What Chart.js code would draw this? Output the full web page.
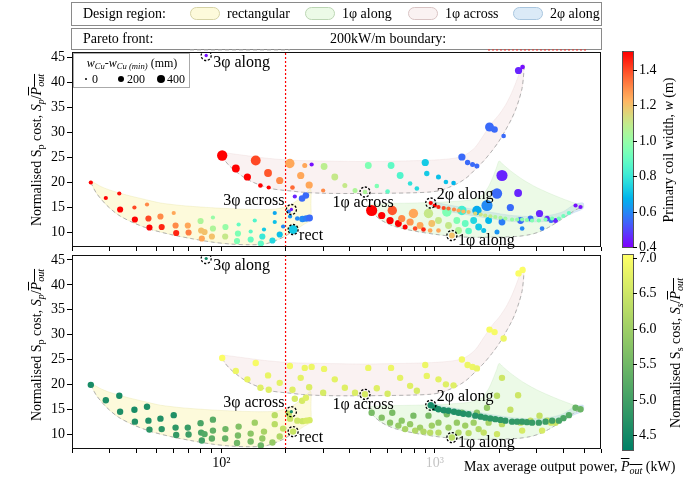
<!DOCTYPE html>
<html>
<head>
<meta charset="utf-8">
<script src="https://cdn.jsdelivr.net/npm/chart.js@4.4.1/dist/chart.umd.min.js"></script>
<style>
  html, body { margin: 0; padding: 0; background: #fff; }
  #wrap { position: relative; width: 697px; height: 479px; overflow: hidden;
          font-family: "Liberation Serif", "Times New Roman", serif; color: #000; }
  canvas { position: absolute; left: 0; }
  .ov { position: absolute; z-index: 5; white-space: nowrap; line-height: 1; }
  .box { position: absolute; z-index: 4; border: 1.5px solid #8a8a8a; box-sizing: border-box; background: #fff; }
  .txt { font-size: 14px; transform: translateY(-50%); }
  .rot { font-size: 14px; transform: translate(-50%, -50%) rotate(-90deg); }
  .pill { position: absolute; z-index: 5; width: 30px; height: 13px; border-radius: 7px; box-sizing: border-box; }
  sub { font-size: 72%; vertical-align: -0.25em; line-height: 0; }
  .bar { text-decoration: overline; }
  .cbar { position: absolute; z-index: 5; width: 10px; outline: 1px solid #555; }
  .ctick { position: absolute; z-index: 5; width: 4px; height: 1px; background: #000; }
</style>
</head>
<body>
<div id="wrap">
  <canvas id="topChart" width="697" height="265" style="top:0px"></canvas>
  <canvas id="bottomChart" width="697" height="244" style="top:235px"></canvas>
</div>
<script>
// Design points: [P_out (kW), Sp/P_out, coil width w (m), w_Cu - w_Cu,min (mm), Ss/P_out]
const rectangular = [
  [24.5,19.9,1.50,60,4.55],[28.8,16.8,1.50,60,4.6],[33.3,17.7,1.48,60,4.55],[33.6,14.5,1.50,170,4.6],
  [39.2,14.9,1.40,60,4.55],[39.4,12.5,1.50,170,4.65],[44.9,15.5,1.30,60,4.6],[45.6,12.7,1.40,170,4.65],
  [46.1,10.9,1.50,170,4.75],[51.9,13.1,1.30,170,4.65],[52.6,11.0,1.45,170,4.75],[59.9,13.8,1.25,60,4.65],
  [61.1,11.3,1.30,170,4.8],[61.5,9.8,1.45,170,4.85],[69.7,11.3,1.25,170,4.9],[70.3,9.9,1.32,170,4.95],
  [80.0,12.2,1.05,170,5.1],[80.5,10.3,1.20,170,5.1],[81.1,8.7,1.25,170,5.0],[83.5,10.0,1.20,170,5.2],
  [91.4,12.9,1.00,60,5.25],[91.4,10.7,1.05,170,5.35],[90.4,9.1,1.20,170,5.3],[104.6,11.0,1.00,170,5.5],
  [104.3,9.1,1.10,170,5.4],[118.5,8.2,0.95,170,5.5],[120.6,11.5,0.90,60,5.7],[119.7,9.7,0.95,170,5.6],
  [137.3,10.1,0.88,60,5.8],[137.3,8.5,0.90,170,5.6],[143.5,12.3,0.85,60,6.0],[153.2,7.7,0.88,170,5.45],
  [155.7,9.1,0.80,170,5.9],[158.5,10.5,0.72,60,6.1],[173.6,8.3,0.75,170,5.9],[178,13.8,0.65,60,6.3],
  [178,12.0,0.70,60,6.3],[187.8,9.5,0.70,170,6.2],[194.8,11.1,0.60,60,6.4],[207,14.1,0.58,60,6.4],
  [210,13.1,0.62,60,6.45],[217,10.5,0.72,400,6.45],[221,17.1,0.45,60,6.6],[227,12.7,0.60,80,6.5],
  [239,16.7,0.55,200,6.6],[240,12.6,0.60,200,6.5],[249,17.3,0.55,200,6.7],[250,12.7,0.58,200,6.6],
  [259,12.8,0.55,220,6.6]
];
const onePhaseAcross = [
  [101,25.3,1.50,550,7.0],[117,22.7,1.50,300,6.85],[132.5,21.0,1.50,250,6.8],[145,24.3,1.40,500,6.95],
  [152.5,19.3,1.50,80,6.7],[165.6,21.8,1.38,300,6.8],[166.8,18.9,1.50,60,6.7],[187.8,20.3,1.30,250,6.75],
  [209.5,23.7,1.25,450,6.9],[215.5,18.9,1.35,80,6.7],[235.5,21.3,1.25,250,6.75],[246,23.3,1.25,100,6.85],
  [258,19.4,1.25,250,6.65],[265,23.5,0.42,60,6.85],[300,18.3,1.30,60,6.6],[303,23.1,1.08,220,6.85],
  [340,21.0,1.10,220,6.75],[379,19.3,1.10,100,6.7],[423,18.3,1.05,100,6.65],[471,18.0,1.05,80,6.6],
  [488,23.3,0.95,220,6.85],[535,19.2,0.95,80,6.7],[601,18.1,0.88,80,6.6],[624,23.3,0.88,220,6.85],
  [688,21.3,0.85,220,6.75],[766,19.7,0.78,80,6.7],[824,18.7,0.76,80,6.6],[902,23.9,0.72,250,6.85],
  [917,21.7,0.72,120,6.8],[1040,21.0,0.70,100,6.75],[1127,20.0,0.70,80,6.7],[1224,19.8,0.68,80,6.7],
  [1339,25.0,0.55,250,6.9],[1424,23.9,0.55,120,6.85],[1502,23.5,0.55,100,6.85],[1574,23.2,0.55,100,6.8],
  [1803,31.0,0.55,400,6.95],[1904,30.5,0.55,200,6.95],[2100,29.2,0.55,80,6.85],[2466,42.3,0.45,250,7.0],
  [2576,43.0,0.42,80,7.0]
];
const onePhaseAlong = [
  [506,14.3,1.50,650,5.6],[564,13.3,1.50,250,5.7],[617,12.3,1.50,250,5.8],[632,14.3,1.38,450,5.6],
  [675,11.7,1.50,220,5.9],[700,12.7,1.30,250,5.8],[726,11.0,1.50,100,6.1],[766,12.0,1.28,250,5.9],
  [794,13.7,1.25,450,5.6],[809,10.7,1.40,80,6.2],[853,11.3,1.25,220,6.0],[885,10.5,1.45,80,6.2],
  [934,13.7,1.10,450,5.6],[951,10.3,1.25,80,6.3],[968,11.7,1.20,220,6.0],[1040,12.3,1.10,220,5.9],
  [1040,10.3,1.25,80,6.3],[1138,14.0,0.95,450,5.6],[1159,11.3,1.10,220,6.0],[1202,9.3,1.20,150,6.3],
  [1268,12.3,0.95,220,5.9],[1291,10.3,1.05,220,6.2],[1339,14.3,0.82,450,5.7],[1388,11.7,0.90,220,6.0],
  [1439,10.2,0.88,200,6.3],[1520,12.3,0.75,220,6.0],[1574,14.3,0.66,450,5.8],[1604,11.0,0.72,220,6.2],
  [1694,10.3,0.70,100,6.4],[1755,15.3,0.60,650,5.9],[1786,12.3,0.68,220,6.1],[1955,17.7,0.55,550,6.3],
  [1955,10.0,0.62,100,6.5],[2063,21.3,0.45,650,6.5],[2063,12.0,0.58,220,6.3],[2258,14.9,0.55,250,6.4],
  [2455,17.8,0.45,300,6.5],[2520,12.3,0.55,220,6.4],[2564,10.7,0.60,80,6.6],[2806,12.7,0.55,150,6.4],
  [3092,13.7,0.45,250,6.4],[3179,10.7,0.58,80,6.6],[3356,12.7,0.45,120,6.4],[3500,12.3,0.55,100,6.5],
  [3673,12.3,0.45,100,6.5],[4560,15.3,0.42,60,5.4],[4810,15.0,0.42,60,5.45]
];
const twoPhaseAlong = [
  [957,15.8,1.50,60,4.5],[1000,15.3,1.50,60,4.55],[1040,15.0,1.45,60,4.55],[1100,14.8,1.40,60,4.6],
  [1159,14.7,1.35,60,4.6],[1230,14.5,1.30,60,4.62],[1291,14.3,1.25,60,4.65],[1360,14.1,1.22,60,4.65],
  [1439,14.0,1.20,60,4.7],[1546,13.7,1.15,60,4.7],[1640,13.5,1.12,60,4.72],[1723,13.3,1.10,60,4.75],
  [1820,13.15,1.08,60,4.75],[1920,13.0,1.05,60,4.78],[2030,12.85,1.05,60,4.8],[2139,12.7,1.02,60,4.8],
  [2300,12.5,1.00,60,4.82],[2430,12.5,1.00,60,4.85],[2563,12.5,0.98,60,4.85],[2700,12.4,0.97,60,4.88],
  [2853,12.3,0.96,60,4.9],[3069,12.3,0.95,60,4.9],[3300,12.5,0.95,60,4.95],[3543,12.7,0.94,60,5.0],
  [3811,12.7,0.93,60,5.05],[4000,13.2,0.92,60,5.1],[4245,13.8,0.90,60,5.2]
];
const threePhaseAcross = [[213,14.5,0.42,20,4.5]];
const threePhaseAlong = [[85,45.3,0.42,20,4.5]];

// Design-region outlines [P_out, Sp/P_out]; fronts are the Pareto-optimal lower edges
const rectUpper = [[24.5,20.3],[27,19.2],[30,18.4],[36,17.4],[44,16.5],[52,15.8],[65,15.3],[80,15.0],
  [95,14.8],[120,14.6],[150,14.5],[180,14.6],[205,15.2],[225,16.2],[245,17.4],[262,18.6],[263,15.5],
  [262,12.4],[245,11.6],[228,10.7]];
const rectFront = [[24.5,19.9],[26,17.8],[29,15.4],[33,13.4],[39,11.8],[47,10.5],[58,9.5],[72,8.7],
  [90,8.0],[110,7.6],[135,7.45],[160,7.6],[180,8.3],[200,9.2],[217,10.3]];
const acrossUpper = [[101,25.9],[115,25.6],[135,25.2],[160,24.8],[190,24.5],[230,24.3],[300,24.2],
  [450,24.1],[700,24.2],[1000,24.4],[1250,24.8],[1400,25.5],[1550,27.0],[1700,29.5],[1850,31.8],
  [2000,33.5],[2150,35.5],[2300,38.0],[2450,41.0],[2560,43.5],[2620,43.6]];
const acrossFront = [[101,25.3],[104,24.3],[110,23.1],[118,22.0],[128,20.9],[140,20.0],[154,19.3],
  [170,18.7],[190,18.4],[213,18.2],[240,17.95],[300,17.75],[400,17.7],[600,17.75],[800,17.85],
  [950,18.0],[1060,18.3],[1159,18.9],[1250,19.5],[1339,20.2],[1430,21.1],[1545,22.5],[1700,24.3],
  [1850,26.2],[2000,28.2],[2138,30.3],[2280,32.5],[2381,34.3],[2480,36.5],[2560,38.7],[2600,41.0],[2620,43.2]];
const alongUpper = [[488,15.5],[600,15.7],[800,15.8],[1100,16.0],[1450,16.4],[1650,17.2],[1780,19.0],
  [1870,21.0],[1950,23.0],[2000,24.2],[2100,23.4],[2300,22.0],[2600,20.4],[3000,18.9],[3500,17.6],
  [4000,16.6],[4500,15.8],[4950,15.3]];
const alongFront = [[488,15.4],[505,14.2],[530,13.2],[560,12.4],[600,11.7],[651,11.1],[740,10.5],
  [838,10.05],[1000,9.55],[1202,9.15],[1450,8.95],[1723,8.95],[2100,9.0],[2473,9.15],[2800,9.5],
  [3069,10.0],[3400,10.9],[3811,12.2],[4200,13.4],[4560,14.4],[4950,15.1]];
const twoAlongUpper = [[940,16.3],[1100,15.6],[1400,14.8],[1800,14.0],[2300,13.3],[2900,13.1],
  [3500,13.4],[4000,14.1],[4500,15.5],[4950,15.8]];
const twoAlongLower = [[940,15.3],[1100,14.3],[1400,13.5],[1800,12.7],[2300,12.1],[2900,12.0],
  [3500,12.2],[4000,12.9],[4500,13.9],[4950,14.7]];

// Selected designs [label, P_out, Sp/P_out]
const designs = [['3φ along',85,45.3],['3φ across',213,14.5],['rect',217,10.5],
                 ['1φ across',471,18.0],['2φ along',957,15.8],['1φ along',1202,9.3]];
const boundaryKW = 200;

// Axes and colour scales
const xTicks = [20,30,40,50,60,70,80,90,100,200,300,400,500,600,700,800,900,1000,2000,3000,4000,5000,6000];
const xTickLabels = {100: '10²', 1000: '10³'};
const yTicks = [10,15,20,25,30,35,40,45];
const wTicks = [0.4,0.6,0.8,1.0,1.2,1.4];
const wRange = [0.4,1.5];
const ssTicks = [4.5,5.0,5.5,6.0,6.5,7.0];
const ssRange = [4.29,7.04];
const sizeKeys = [0,200,400];
const regionNames = ['rectangular','1φ along','1φ across','2φ along'];

// ---------- colour maps ----------
const clamp = v => Math.max(0, Math.min(1, v));
const rgb = (r, g, b) => `rgb(${Math.round(clamp(r)*255)},${Math.round(clamp(g)*255)},${Math.round(clamp(b)*255)})`;
function rainbow(t) { t = clamp(t); return rgb(Math.abs(2*t - 0.5), Math.sin(Math.PI*t), Math.cos(Math.PI*t/2)); }
function summer(t) { t = clamp(t); return rgb(t, 0.5 + t/2, 0.4); }
const wColor = w => rainbow((w - wRange[0]) / (wRange[1] - wRange[0]));
const ssColor = s => summer((s - ssRange[0]) / (ssRange[1] - ssRange[0]));
const cuRadius = cu => Math.sqrt(1.8 + 0.045*cu);

const SERIF = '"Liberation Serif", "Times New Roman", serif';
// keyed by the legend names above
const regionStyle = {
  'rectangular': {upper: rectUpper, lower: rectFront, front: rectFront, fill: 'rgba(250,244,170,0.42)', edge: 'rgba(225,220,150,0.5)', pill: '#d6d3a6'},
  '1φ across':   {upper: acrossUpper, lower: acrossFront, front: acrossFront, fill: 'rgba(238,210,210,0.28)', edge: 'rgba(220,190,190,0.35)', pill: '#d9c4c4'},
  '1φ along':    {upper: alongUpper, lower: alongFront, front: alongFront, fill: 'rgba(195,238,180,0.32)', edge: 'rgba(180,220,170,0.4)', pill: '#bcd6b4'},
  '2φ along':    {upper: twoAlongUpper, lower: twoAlongLower, front: null, fill: 'rgba(170,205,235,0.42)', edge: 'rgba(160,195,230,0.5)', pill: '#a9c6df'}
};
const regionDrawOrder = ['rectangular', '1φ across', '1φ along', '2φ along'];
const pointGroups = [
  {rows: rectangular, order: 6}, {rows: onePhaseAcross, order: 6}, {rows: onePhaseAlong, order: 6},
  {rows: twoPhaseAlong, order: 5}, {rows: threePhaseAcross, order: 4}, {rows: threePhaseAlong, order: 4}
];
const labelPlace = {
  '3φ along':  {dx: 7,  dy: 7,  align: 'left'},
  '3φ across': {dx: -7, dy: -9, align: 'right'},
  'rect':      {dx: 6,  dy: 6,  align: 'left'},
  '1φ across': {dx: -2, dy: 11, align: 'center'},
  '2φ along':  {dx: 6,  dy: -8, align: 'left'},
  '1φ along':  {dx: 6,  dy: 5,  align: 'left'}
};
const toXY = pts => pts.map(p => ({x: p[0], y: p[1]}));

function buildDatasets(colorOf, radiusOf) {
  const ds = [];
  regionDrawOrder.forEach(name => {
    const r = regionStyle[name];
    ds.push({type: 'line', data: toXY(r.upper.concat(r.lower.slice().reverse())), fill: 'shape',
      backgroundColor: r.fill, borderColor: r.edge, borderWidth: 0.6, pointRadius: 0, tension: 0.25, order: 30});
    if (r.front) ds.push({type: 'line', data: toXY(r.front), fill: false, borderColor: '#b2b2b2',
      borderDash: [4, 3], borderWidth: 1, pointRadius: 0, tension: 0.3, order: 20});
  });
  ds.push({type: 'line', data: [{x: boundaryKW, y: 7}, {x: boundaryKW, y: 46}], fill: false,
    borderColor: 'rgb(255,0,0)', backgroundColor: 'rgb(255,0,0)', borderDash: [2, 2], borderWidth: 1.2,
    borderCapStyle: 'butt', pointRadius: 0, order: 10});
  pointGroups.forEach(g => ds.push({
    type: 'scatter', order: g.order, borderWidth: 0,
    data: g.rows.map(r => ({x: r[0], y: r[1], w: r[2], cu: r[3], ss: r[4]})),
    backgroundColor: c => c.raw ? colorOf(c.raw) : '#000',
    pointRadius: c => c.raw ? radiusOf(c.raw) : 2,
    pointHoverRadius: c => c.raw ? radiusOf(c.raw) : 2
  }));
  ds.push({type: 'scatter', ring: true, order: 0, data: designs.map(d => ({x: d[1], y: d[2]})),
    pointRadius: 5, pointHoverRadius: 5, backgroundColor: 'rgba(0,0,0,0)', borderColor: '#000', borderWidth: 1.3});
  return ds;
}

const dashedRings = {
  id: 'dashedRings',
  beforeDatasetDraw(chart, args) { if (chart.data.datasets[args.index].ring) { chart.ctx.save(); chart.ctx.setLineDash([2.2, 1.6]); } },
  afterDatasetDraw(chart, args) { if (chart.data.datasets[args.index].ring) chart.ctx.restore(); }
};
const designLabels = {
  id: 'designLabels',
  afterDatasetsDraw(chart) {
    const {ctx, scales: {x, y}} = chart;
    ctx.save();
    ctx.font = '16px ' + SERIF;
    ctx.fillStyle = '#000';
    ctx.textBaseline = 'middle';
    designs.forEach(([name, p, s]) => {
      const pl = labelPlace[name];
      ctx.textAlign = pl.align;
      ctx.fillText(name, x.getPixelForValue(p) + pl.dx, y.getPixelForValue(s) + pl.dy);
    });
    ctx.restore();
  }
};
const frame = {
  id: 'frame',
  afterDraw(chart) {
    const {ctx, chartArea: a} = chart;
    ctx.save();
    ctx.strokeStyle = '#111';
    ctx.lineWidth = 1;
    ctx.strokeRect(Math.round(a.left) + 0.5, Math.round(a.top) + 0.5, Math.round(a.right - a.left) - 1, Math.round(a.bottom - a.top) - 1);
    ctx.restore();
  }
};

function makePanel(id, padTop, xHeight, showXLabels, colorOf, radiusOf) {
  return new Chart(document.getElementById(id), {
    type: 'scatter',
    data: {datasets: buildDatasets(colorOf, radiusOf)},
    plugins: [dashedRings, designLabels, frame],
    options: {
      responsive: false, animation: false, devicePixelRatio: 1, events: [],
      layout: {padding: {top: padTop, right: 96, left: 0, bottom: 0}},
      plugins: {legend: {display: false}, tooltip: {enabled: false}},
      scales: {
        x: {
          type: 'logarithmic', min: 20, max: 6000,
          afterBuildTicks: ax => { ax.ticks = xTicks.map(v => ({value: v})); },
          afterFit: ax => { ax.height = xHeight; },
          ticks: {autoSkip: false, maxRotation: 0, minRotation: 0, padding: 2,
            font: {family: SERIF, size: 14},
            color: c => (c.tick && c.tick.value === 1000) ? '#c4c4c4' : '#000',
            callback: v => showXLabels ? (xTickLabels[v] || '') : ''},
          grid: {drawOnChartArea: false, drawTicks: true, tickLength: 4, color: '#000'},
          border: {display: false}
        },
        y: {
          type: 'linear', min: 7, max: 46,
          afterBuildTicks: ax => { ax.ticks = yTicks.map(v => ({value: v})); },
          afterFit: ax => { ax.width = 72; },
          ticks: {padding: 2, font: {family: SERIF, size: 14}, color: '#000', callback: v => String(v)},
          grid: {drawOnChartArea: false, drawTicks: true, tickLength: 5, color: '#000'},
          border: {display: false}
        }
      }
    }
  });
}

makePanel('topChart', 52, 18, false, p => wColor(p.w), p => cuRadius(p.cu));
makePanel('bottomChart', 20, 30, true, p => ssColor(p.ss), p => p.cu < 40 ? 1.6 : 3.2);

// ---------- HTML furniture: legends, colour bars, axis titles ----------
const wrap = document.getElementById('wrap');
function add(cls, css, html) {
  const d = document.createElement('div');
  d.className = cls; d.style.cssText = css; if (html !== undefined) d.innerHTML = html;
  wrap.appendChild(d); return d;
}
// design-region legend
add('box', 'left:71px;top:2px;width:531px;height:24px');
add('ov txt', 'left:83px;top:14px', 'Design region:');
const pillX = [190, 305, 408, 513];
regionNames.forEach((n, i) => {
  const st = regionStyle[n];
  add('pill', `left:${pillX[i]}px;top:7px;background:${st.fill};border:1px solid ${st.pill}`);
  add('ov txt', `left:${pillX[i] + 37}px;top:14px`, n);
});
// line legend
add('box', 'left:71px;top:28px;width:531px;height:22px');
add('ov txt', 'left:83px;top:39px', 'Pareto front:');
add('ov', 'left:190px;top:38px', '<svg width="100" height="2"><line x1="0" y1="1" x2="100" y2="1" stroke="#b8b8b8" stroke-width="1" stroke-dasharray="4 3"/></svg>');
add('ov txt', 'left:330px;top:39px', '200kW/m boundary:');
add('ov', 'left:488px;top:38px', '<svg width="100" height="2"><line x1="0" y1="1" x2="100" y2="1" stroke="#ee2a24" stroke-width="1" stroke-dasharray="2 2"/></svg>');

// conductor width size key
add('box', 'left:73px;top:53px;width:117px;height:35px;border:1px solid #aaa;background:rgba(255,255,255,0.85)');
add('ov', 'left:132px;top:63px;font-size:12px;transform:translate(-50%,-50%)',
  '<i>w</i><sub><i>Cu</i></sub>-<i>w</i><sub><i>Cu (min)</i></sub> (mm)');
const keyX = [86, 121, 161];
sizeKeys.forEach((k, i) => {
  const r = cuRadius(k);
  add('ov', `left:${keyX[i] - r}px;top:${79 - r}px;width:${2*r}px;height:${2*r}px;border-radius:50%;background:#000`);
  add('ov', `left:${keyX[i] + 6}px;top:79px;font-size:12px;transform:translateY(-50%)`, String(k));
});

// colour bars
function colorbar(top, height, range, ticks, cmapT) {
  const left = 623, stops = [];
  for (let i = 0; i <= 24; i++) { const t = i / 24; stops.push(`${cmapT(t)} ${(t*100).toFixed(1)}%`); }
  add('cbar', `left:${left}px;top:${top}px;height:${height}px;background:linear-gradient(to top, ${stops.join(',')})`);
  ticks.forEach(v => {
    const y = top + height * (1 - (v - range[0]) / (range[1] - range[0]));
    add('ctick', `left:${left + 10}px;top:${Math.round(y)}px`);
    add('ov txt', `left:${left + 16}px;top:${y}px`, v.toFixed(1));
  });
}
colorbar(52, 195, wRange, wTicks, rainbow);
colorbar(255, 195, ssRange, ssTicks, summer);
add('ov rot', 'left:669px;top:150px', 'Primary coil width, <i>w</i> (m)');
add('ov rot', 'left:676px;top:353px', 'Normalised S<sub>s</sub> cost, <i>S<sub>s</sub></i>/<i class="bar">P<sub>out</sub></i>');

// axis titles
const yTitle = 'Normalised S<sub>p</sub> cost, <i>S<sub>p</sub></i>/<i class="bar">P<sub>out</sub></i>';
add('ov rot', 'left:37px;top:150px', yTitle);
add('ov rot', 'left:37px;top:345px', yTitle);
add('ov txt', 'left:464px;top:467px', 'Max average output power, <i class="bar">P<sub>out</sub></i> (kW)');
</script>
</body>
</html>
